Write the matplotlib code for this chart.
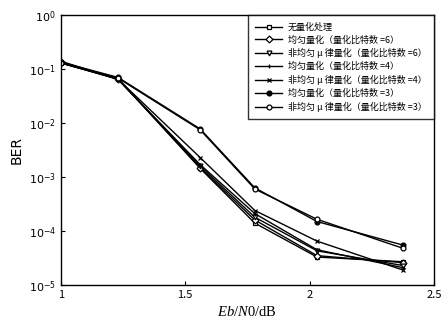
import numpy as np
import matplotlib
matplotlib.use('Agg')
import matplotlib.pyplot as plt

plt.rcParams['font.family'] = ['Noto Sans CJK SC', 'DejaVu Sans']
plt.rcParams['mathtext.fontset'] = 'custom'
plt.rcParams['mathtext.rm'] = 'DejaVu Sans'
plt.rcParams['mathtext.it'] = 'Liberation Serif:italic'

# Eb/N0 (dB)
ebn0 = [1.0, 1.23, 1.56, 1.78, 2.03, 2.375]

ber_none = [0.13, 0.066, 1.45e-3, 1.4e-4, 3.3e-5, 2.7e-5]
ber_uni6 = [0.135, 0.066, 1.5e-3, 1.6e-4, 3.5e-5, 2.6e-5]
ber_mu6 = [0.13, 0.065, 1.6e-3, 1.8e-4, 4.3e-5, 2.3e-5]
ber_uni4 = [0.14, 0.064, 1.7e-3, 2.1e-4, 4.5e-5, 2.1e-5]
ber_mu4 = [0.13, 0.065, 2.3e-3, 2.4e-4, 6.5e-5, 1.9e-5]
ber_uni3 = [0.135, 0.07, 7.8e-3, 6.3e-4, 1.5e-4, 5.5e-5]
ber_mu3 = [0.13, 0.068, 7.5e-3, 6.0e-4, 1.65e-4, 4.8e-5]

labels = ['无量化处理',
          '均匀量化（量化比特数 =6）',
          '非均匀 μ 律量化（量化比特数 =6）',
          '均匀量化（量化比特数 =4）',
          '非均匀 μ 律量化（量化比特数 =4）',
          '均匀量化（量化比特数 =3）',
          '非均匀 μ 律量化（量化比特数 =3）']

fig = plt.figure(figsize=(4.41, 3.28), dpi=100)
ax = fig.add_axes([0.138, 0.131, 0.846, 0.823])

kw = dict(color='black', linewidth=1.0, markersize=3.5, markeredgewidth=0.9)
ax.plot(ebn0, ber_none, marker='s', mfc='white', label=labels[0], **kw)
ax.plot(ebn0, ber_uni6, marker='D', mfc='white', label=labels[1], **kw)
ax.plot(ebn0, ber_mu6, marker='v', mfc='white', label=labels[2], **kw)
ax.plot(ebn0, ber_uni4, marker='+', label=labels[3], **kw)
ax.plot(ebn0, ber_mu4, marker='x', label=labels[4], **kw)
ax.plot(ebn0, ber_uni3, marker='o', mfc='black', label=labels[5], **kw)
ax.plot(ebn0, ber_mu3, marker='o', mfc='white', label=labels[6], **kw)

ax.set_yscale('log')
ax.set_xlim(1, 2.5)
ax.set_ylim(1e-5, 1)
ax.set_xticks([1, 1.5, 2, 2.5])
ax.set_xticklabels(['1', '1.5', '2', '2.5'])
ax.set_yticks([1e-5, 1e-4, 1e-3, 1e-2, 1e-1, 1])
ax.set_yticklabels([r'$10^{-5}$', r'$10^{-4}$', r'$10^{-3}$', r'$10^{-2}$', r'$10^{-1}$', r'$10^{0}$'])
ax.minorticks_off()
ax.tick_params(direction='in', labelsize=8, length=3)
for sp in ax.spines.values():
    sp.set_linewidth(1.0)

ax.set_ylabel('BER', fontsize=10, family='DejaVu Sans')
ax.set_xlabel(r'$Eb$/$N$0/dB', fontsize=10.5, family='Liberation Serif')

leg = ax.legend(loc='upper right', fontsize=6.5, frameon=True, fancybox=False,
                edgecolor='black', borderaxespad=0, handlelength=3,
                labelspacing=0.4, borderpad=0.8, handletextpad=0.6)
leg.get_frame().set_linewidth(1.0)

fig.savefig('out.png', dpi=100)
